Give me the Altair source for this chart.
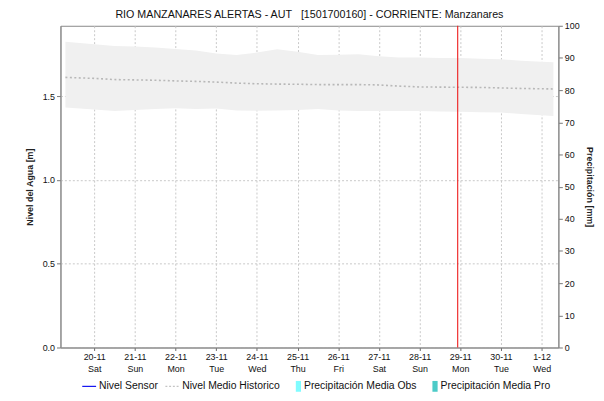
import altair as alt
import pandas as pd

# ---- data ----
times = [
    "2021-11-19T07:00:00", "2021-11-20T00:00:00", "2021-11-20T12:00:00",
    "2021-11-21T00:00:00", "2021-11-21T12:00:00", "2021-11-22T00:00:00",
    "2021-11-22T12:00:00", "2021-11-23T00:00:00", "2021-11-23T12:00:00",
    "2021-11-24T00:00:00", "2021-11-24T12:00:00", "2021-11-25T00:00:00",
    "2021-11-25T12:00:00", "2021-11-26T00:00:00", "2021-11-26T12:00:00",
    "2021-11-27T00:00:00", "2021-11-27T12:00:00", "2021-11-28T00:00:00",
    "2021-11-28T12:00:00", "2021-11-29T00:00:00", "2021-11-29T12:00:00",
    "2021-11-30T00:00:00", "2021-11-30T12:00:00", "2021-12-01T00:00:00",
    "2021-12-01T07:00:00",
]
hist_upper = [1.825, 1.810, 1.800, 1.797, 1.790, 1.782, 1.772, 1.755, 1.745,
              1.760, 1.780, 1.765, 1.745, 1.747, 1.750, 1.738, 1.731, 1.730,
              1.728, 1.727, 1.723, 1.720, 1.712, 1.706, 1.703]
hist_lower = [1.432, 1.420, 1.412, 1.418, 1.424, 1.428, 1.424, 1.426, 1.415,
              1.413, 1.415, 1.418, 1.423, 1.414, 1.412, 1.412, 1.412, 1.411,
              1.409, 1.407, 1.404, 1.402, 1.394, 1.386, 1.382]
hist_mean = [1.612, 1.606, 1.599, 1.597, 1.595, 1.591, 1.588, 1.584, 1.578,
             1.574, 1.572, 1.571, 1.569, 1.569, 1.569, 1.567, 1.560, 1.555,
             1.554, 1.553, 1.552, 1.549, 1.546, 1.544, 1.543]

precip_days = ["2021-11-20T00:00:00", "2021-11-21T00:00:00", "2021-11-22T00:00:00",
               "2021-11-23T00:00:00", "2021-11-24T00:00:00", "2021-11-25T00:00:00",
               "2021-11-26T00:00:00", "2021-11-27T00:00:00", "2021-11-28T00:00:00"]
precip_obs = [0, 0, 0, 0, 0, 0, 0, 0, 0]

now_time = ["2021-11-28T22:30:00"]

legend_names = ["Nivel Sensor", "Nivel Medio Historico",
                "Precipitación Media Obs", "Precipitación Media Pro"]
legend_colors = ["#0000f0", "#c4c4c4", "#80fcff", "#4ccbc8"]

left_ticks = [0.0, 0.5, 1.0, 1.5]
right_ticks = [0, 10, 20, 30, 40, 50, 60, 70, 80, 90, 100]

title_text = "RIO MANZANARES ALERTAS - AUT\u00a0\u00a0\u00a0[1501700160] - CORRIENTE: Manzanares"

# ---- styling ----
FONT = "Liberation Sans"
W, H = 503, 325

hist = pd.DataFrame({"t": times, "upper": hist_upper, "lower": hist_lower, "mean": hist_mean})
precip = pd.DataFrame({"t": precip_days, "p": precip_obs})
now_df = pd.DataFrame({"t": now_time})
leg_df = pd.DataFrame({"serie": legend_names})

x_scale = alt.Scale(domain=[alt.DateTime(year=2021, month=11, date=19, hours=7),
                            alt.DateTime(year=2021, month=12, date=1, hours=7)],
                    nice=False)
y_left = alt.Scale(domain=[0, 1.92], nice=False, zero=False)
y_right = alt.Scale(domain=[0, 100], nice=False)

x_axis = alt.Axis(
    orient="bottom", title=None, grid=True, gridDash=[2, 2], gridColor="#c8c8c8",
    tickCount={"interval": "day", "step": 1}, tickSize=3, tickColor="#666",
    domainColor="#888", labelFont=FONT, labelFontSize=9, labelColor="#111",
    labelPadding=2, labelLineHeight=12,
    labelExpr="[timeFormat(datum.value, '%-d-%m'), timeFormat(datum.value, '%a')]",
)
left_axis = alt.Axis(
    orient="left", values=left_ticks, format=".1f", title="Nivel del Agua [m]", grid=True,
    gridDash=[2, 2], gridColor="#c8c8c8", tickSize=4, tickColor="#777",
    domainColor="#888", labelFont=FONT, labelFontSize=9, labelColor="#111",
    labelPadding=2, titleFont=FONT, titleFontSize=9, titleFontWeight="bold",
    titleColor="#222", titlePadding=8,
)
right_axis = alt.Axis(
    orient="right", values=right_ticks, title="Precipitación [mm]", titleAngle=90,
    grid=False, tickSize=4, tickColor="#777", domainColor="#888",
    labelFont=FONT, labelFontSize=9, labelColor="#111", labelPadding=2,
    titleFont=FONT, titleFontSize=9, titleFontWeight="bold", titleColor="#222",
    titlePadding=5,
)

X = alt.X("t:T", scale=x_scale, axis=x_axis)

band = alt.Chart(hist).mark_area(color="#f0f0f0", opacity=1).encode(
    x=X,
    y=alt.Y("upper:Q", scale=y_left, axis=left_axis),
    y2="lower:Q",
)
mean_line = alt.Chart(hist).mark_line(color="#b8b8b8", strokeWidth=1.6, strokeDash=[2, 2.5]).encode(
    x=X,
    y=alt.Y("mean:Q", scale=y_left, axis=None),
)
now_rule = alt.Chart(now_df).mark_rule(color="#ee1c1c", strokeWidth=1.1).encode(x=X)

line_path = "M-1,-0.08H1V0.08H-1Z"
dash_path = ("M-1,-0.08H-0.72V0.08H-1Z M-0.46,-0.08H-0.18V0.08H-0.46Z "
             "M0.08,-0.08H0.36V0.08H0.08Z M0.62,-0.08H0.9V0.08H0.62Z")
box_path = "M0.25,-0.78H1V0.78H0.25Z"

legend_layer = alt.Chart(leg_df).mark_point(filled=True, opacity=0).encode(
    color=alt.Color("serie:N", scale=alt.Scale(domain=legend_names, range=legend_colors),
                    legend=alt.Legend(title=None)),
    shape=alt.Shape("serie:N", scale=alt.Scale(domain=legend_names,
                                               range=[line_path, dash_path, box_path, box_path]),
                    legend=alt.Legend(title=None)),
)

precip_bars = alt.Chart(precip).mark_bar(color="#80fcff").encode(
    x=X,
    y=alt.Y("p:Q", scale=y_right, axis=right_axis),
)

chart = alt.layer(band, mean_line, now_rule, legend_layer, precip_bars).resolve_scale(
    y="independent"
).properties(
    width=W, height=H,
    title=alt.Title(title_text, font=FONT, fontSize=10.8, fontWeight="normal",
                    color="#111", anchor="middle", offset=2),
    autosize=alt.AutoSizeParams(type="none"),
    padding={"left": 53, "top": 16, "right": 38, "bottom": 44},
).configure_view(stroke="#888", strokeWidth=1).configure_legend(
    orient="none", legendX=22, legendY=357, direction="horizontal",
    labelFont=FONT, labelFontSize=10.5, labelColor="#111", symbolSize=196,
    symbolOpacity=1, symbolStrokeWidth=0, columnPadding=7, labelOffset=3,
    padding=0,
)

chart.save("out.html", embed_options={"renderer": "svg", "actions": False})
